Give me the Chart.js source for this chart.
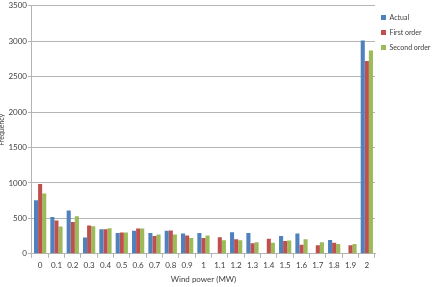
<!DOCTYPE html>
<html>
<head>
<meta charset="utf-8">
<script src="https://cdn.jsdelivr.net/npm/chart.js@4"></script>
<style>
    html, body { margin: 0; padding: 0; background: #ffffff; }
    #wrap { width: 435px; height: 287px; }
</style>
</head>
<body>
<div id="wrap"><canvas id="windChart" width="435" height="287"></canvas></div>
<script>
// Wind power bins (MW)
const windLabels = ['0', '0.1', '0.2', '0.3', '0.4', '0.5', '0.6', '0.7', '0.8', '0.9', '1',
    '1.1', '1.2', '1.3', '1.4', '1.5', '1.6', '1.7', '1.8', '1.9', '2'];

// Frequencies
const actualFreq = [757, 519, 610, 229, 348, 295, 324, 295, 324, 286, 295,
    0, 305, 295, 0, 252, 286, 0, 195, 0, 3010];
const firstOrderFreq = [986, 471, 448, 400, 348, 300, 357, 252, 329, 257, 224,
    233, 205, 148, 214, 181, 129, 119, 157, 119, 2720];
const secondOrderFreq = [852, 386, 529, 390, 362, 300, 357, 271, 271, 224, 257,
    190, 190, 162, 157, 186, 205, 162, 138, 138, 2870];

const yTicks = [0, 500, 1000, 1500, 2000, 2500, 3000, 3500];

const fontFamily = 'Lato, "Liberation Sans", sans-serif';
const textColor = '#404040';
const gridColor = '#b4b4b4';

function makeSet(label, data, color) {
    return {
        label: label,
        data: data,
        backgroundColor: color,
        borderWidth: 0,
        categoryPercentage: 0.75,
        barPercentage: 1.0
    };
}

// Excel-like legend: fixed width column, pushed down a little
const legendTweak = {
    id: 'legendTweak',
    beforeInit(chart) {
        const legend = chart.legend;
        if (!legend) return;
        const origFit = legend.fit;
        legend.fit = function () {
            origFit.call(this);
            this.width = 60;
        };
    },
    afterLayout(chart) {
        if (chart.legend) {
            chart.legend.top += 3;
            chart.legend.left -= 2;
        }
    }
};

const ctx = document.getElementById('windChart').getContext('2d');
const windChart = new Chart(ctx, {
    type: 'bar',
    data: {
        labels: windLabels,
        datasets: [
            makeSet('Actual', actualFreq, '#4f81bd'),
            makeSet('First order', firstOrderFreq, '#c0504d'),
            makeSet('Second order', secondOrderFreq, '#9bbb59')
        ]
    },
    plugins: [legendTweak],
    options: {
        responsive: false,
        animation: false,
        layout: { padding: { top: 3, right: 0, bottom: 3, left: -2 } },
        plugins: {
            legend: {
                position: 'right',
                align: 'start',
                labels: {
                    boxWidth: 5,
                    boxHeight: 5,
                    padding: 8,
                    color: textColor,
                    font: { family: fontFamily, size: 7 }
                }
            },
            tooltip: { enabled: false }
        },
        scales: {
            y: {
                min: 0,
                max: 3500,
                afterBuildTicks: axis => { axis.ticks = yTicks.map(v => ({ value: v })); },
                grid: { color: gridColor, tickLength: 4, tickColor: gridColor },
                border: { color: gridColor },
                ticks: {
                    color: textColor,
                    padding: 1,
                    callback: v => String(v),
                    font: { family: fontFamily, size: 8 }
                },
                title: {
                    display: true,
                    text: 'Frequency',
                    color: textColor,
                    padding: { top: 0, bottom: 1 },
                    font: { family: fontFamily, size: 7 }
                }
            },
            x: {
                grid: { drawOnChartArea: false, tickLength: 4, color: gridColor },
                border: { color: gridColor },
                ticks: {
                    color: textColor,
                    padding: 3,
                    maxRotation: 0,
                    autoSkip: false,
                    font: { family: fontFamily, size: 8 }
                },
                title: {
                    display: true,
                    text: 'Wind power (MW)',
                    color: textColor,
                    padding: { top: 1, bottom: 0 },
                    font: { family: fontFamily, size: 8 }
                }
            }
        }
    }
});
</script>
</body>
</html>
